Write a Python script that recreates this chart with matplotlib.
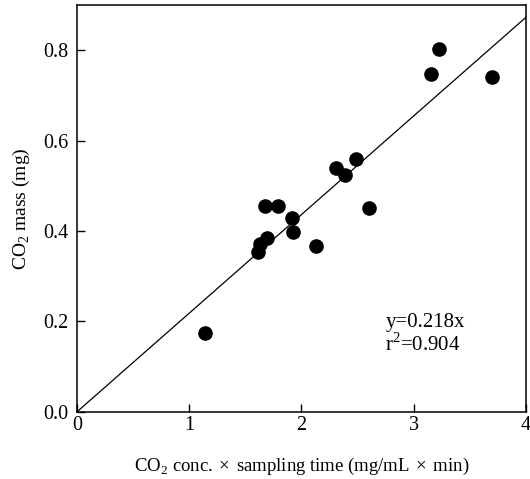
import numpy as np
import matplotlib.pyplot as plt

plt.rcParams['font.family'] = ['Liberation Serif', 'DejaVu Serif']
plt.rcParams['mathtext.fontset'] = 'custom'
plt.rcParams['mathtext.rm'] = 'Liberation Serif'

# data
conc_time = [1.14, 1.61, 1.63, 1.69, 1.675, 1.79, 1.92, 1.93, 2.13,
             2.31, 2.39, 2.49, 2.60, 3.16, 3.23, 3.70]
co2_mass = [0.175, 0.353, 0.371, 0.384, 0.455, 0.455, 0.429, 0.397, 0.366,
            0.540, 0.523, 0.560, 0.451, 0.747, 0.803, 0.740]
slope = 0.218
r2 = 0.904

fig = plt.figure(figsize=(5.3, 4.79), dpi=100)
ax = fig.add_axes([0.145, 0.140, 0.847, 0.850])

x_fit = np.array([0, 4])
ax.plot(x_fit, slope * x_fit, color='black', linewidth=0.9)
ax.plot(conc_time, co2_mass, 'o', color='black', markersize=9.5)

ax.set_xlim(0, 4)
ax.set_ylim(0, 0.9)
ax.set_xticks([0, 1, 2, 3, 4])
ax.set_yticks([0, 0.2, 0.4, 0.6, 0.8])
ax.set_yticklabels(['0.0', '0.2', '0.4', '0.6', '0.8'])
ax.tick_params(direction='in', length=6, labelsize=14.5, width=1, pad=3)
ax.tick_params(axis='y', pad=6)
for s in ax.spines.values():
    s.set_linewidth(1.1)

ax.set_xlabel(r'CO$_2$ conc.$\,\times\,$sampling time (mg/mL$\,\times\,$min)', fontsize=13.5, labelpad=15)
ax.set_ylabel(r'CO$_2$ mass (mg)', fontsize=14, labelpad=8)

ax.text(2.75, 0.125, 'y=0.218x\nr$^2$=0.904', fontsize=15, linespacing=1.05, va='bottom')

fig.savefig('out.png', dpi=100)
